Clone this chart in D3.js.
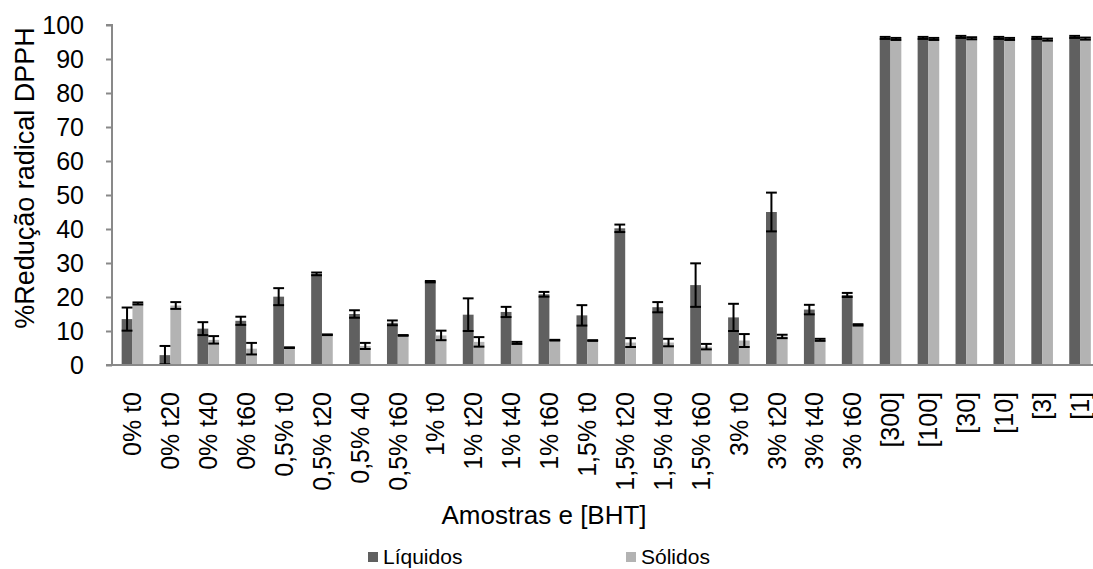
<!DOCTYPE html>
<html>
<head>
<meta charset="utf-8">
<script src="https://cdn.jsdelivr.net/npm/d3@7"></script>
<style>
  body { margin: 0; background: #fff; }
  text { font-family: "Liberation Sans", Arial, sans-serif; fill: #000; }
</style>
</head>
<body>
<div id="chart"></div>
<script>
const categories = ["0% t0", "0% t20", "0% t40", "0% t60",
  "0,5% t0", "0,5% t20", "0,5% 40", "0,5% t60",
  "1% t0", "1% t20", "1% t40", "1% t60",
  "1,5% t0", "1,5% t20", "1,5% t40", "1,5% t60",
  "3% t0", "3% t20", "3% t40", "3% t60",
  "[300]", "[100]", "[30]", "[10]", "[3]", "[1]"];

const liquidos = [13.5, 2.9, 10.7, 13.0, 20.1, 26.8, 15.0, 12.4,
  24.5, 14.8, 15.6, 20.8, 14.6, 40.2, 17.0, 23.5,
  14.0, 45.0, 16.3, 20.6, 96.2, 96.2, 96.5, 96.2, 96.2, 96.5];
const liquidosErr = [3.4, 2.7, 1.9, 1.2, 2.5, 0.4, 1.1, 0.7,
  0.2, 4.8, 1.5, 0.7, 3.0, 1.1, 1.5, 6.4,
  4.0, 5.7, 1.4, 0.6, 0.3, 0.3, 0.3, 0.3, 0.3, 0.3];
const solidos = [18.1, 17.5, 7.4, 4.8, 5.1, 8.9, 5.6, 8.7,
  8.7, 6.8, 6.5, 7.3, 7.2, 6.6, 6.6, 5.4,
  7.2, 8.4, 7.4, 11.8, 95.9, 95.9, 96.1, 95.9, 95.7, 96.0];
const solidosErr = [0.3, 1.0, 1.1, 1.7, 0.1, 0.1, 0.9, 0.1,
  1.4, 1.4, 0.3, 0.1, 0.1, 1.3, 1.1, 0.8,
  1.9, 0.5, 0.3, 0.2, 0.3, 0.3, 0.3, 0.3, 0.3, 0.3];

const seriesNames = ["Líquidos", "Sólidos"];
const colors = ["#606060", "#b3b3b3"];
const yTicks = [0, 10, 20, 30, 40, 50, 60, 70, 80, 90, 100];

const W = 1093, H = 569;
const svg = d3.select("#chart").append("svg")
  .attr("width", W).attr("height", H);

const x0 = d3.scaleBand().domain(categories).range([113.5, 1099]).padding(0);
const x1 = d3.scaleBand().domain(seriesNames)
  .range([x0.bandwidth() * 0.215, x0.bandwidth() * 0.785]);
const y = d3.scaleLinear().domain([0, 100]).range([365, 25]);

const rows = categories.map((c, i) => ({
  cat: c,
  vals: [
    { s: seriesNames[0], v: liquidos[i], e: liquidosErr[i] },
    { s: seriesNames[1], v: solidos[i], e: solidosErr[i] }
  ]
}));

// y axis
const yAxis = svg.append("g")
  .attr("transform", "translate(112,0)")
  .call(d3.axisLeft(y).tickValues(yTicks).tickSize(6).tickPadding(22));
yAxis.select(".domain").attr("stroke", "#898989").attr("stroke-width", 2)
  .attr("d", `M-6,${y(100)}H0V${y(0)}`);
yAxis.selectAll(".tick line").attr("stroke", "#898989").attr("stroke-width", 2);
yAxis.selectAll(".tick text").attr("font-size", 25)
  .attr("font-family", "Liberation Sans, Arial, sans-serif").attr("fill", "#000");

// groups
const g = svg.append("g").selectAll("g").data(rows).join("g")
  .attr("transform", d => `translate(${x0(d.cat)},0)`);

g.selectAll("rect").data(d => d.vals).join("rect")
  .attr("x", d => x1(d.s))
  .attr("width", x1.bandwidth())
  .attr("y", d => y(d.v))
  .attr("height", d => y(0) - y(d.v))
  .attr("fill", (d, i) => colors[i]);

// error bars
const eb = g.selectAll("g.err").data(d => d.vals).join("g").attr("class", "err");
eb.append("line")
  .attr("x1", d => x1(d.s) + x1.bandwidth() / 2)
  .attr("x2", d => x1(d.s) + x1.bandwidth() / 2)
  .attr("y1", d => y(d.v + d.e)).attr("y2", d => y(Math.max(0, d.v - d.e)))
  .attr("stroke", "#000").attr("stroke-width", 2);
eb.selectAll("line.cap").data(d => [
    { s: d.s, yv: d.v + d.e },
    { s: d.s, yv: Math.max(0, d.v - d.e) }
  ]).join("line").attr("class", "cap")
  .attr("x1", d => x1(d.s)).attr("x2", d => x1(d.s) + x1.bandwidth())
  .attr("y1", d => y(d.yv)).attr("y2", d => y(d.yv))
  .attr("stroke", "#000").attr("stroke-width", 2);

// x axis baseline
const xAxis = svg.append("g")
  .attr("transform", `translate(0,${y(0)})`)
  .call(d3.axisBottom(x0).tickSize(0).tickPadding(0));
xAxis.select(".domain").attr("stroke", "#898989").attr("stroke-width", 2)
  .attr("d", `M106,0H${W}`);
xAxis.selectAll(".tick text")
  .attr("font-size", 25)
  .attr("font-family", "Liberation Sans, Arial, sans-serif").attr("fill", "#000")
  .attr("text-anchor", "end")
  .attr("dy", "0.35em")
  .attr("transform", "translate(0,27) rotate(-90)");

// axis titles
svg.append("text")
  .attr("x", 544).attr("y", 524)
  .attr("text-anchor", "middle").attr("font-size", 26)
  .text("Amostras e [BHT]");

svg.append("text")
  .attr("transform", "translate(34,178) rotate(-90)")
  .attr("text-anchor", "middle").attr("font-size", 27)
  .text("%Redução radical DPPH");

// legend
const legendX = [368, 626];
const lg = svg.append("g").selectAll("g").data(seriesNames).join("g")
  .attr("transform", (d, i) => `translate(${legendX[i]},552)`);
lg.append("rect").attr("width", 10).attr("height", 10)
  .attr("fill", (d, i) => colors[i]);
lg.append("text").attr("x", 15).attr("y", 12)
  .attr("font-size", 21).text(d => d);
</script>
</body>
</html>
